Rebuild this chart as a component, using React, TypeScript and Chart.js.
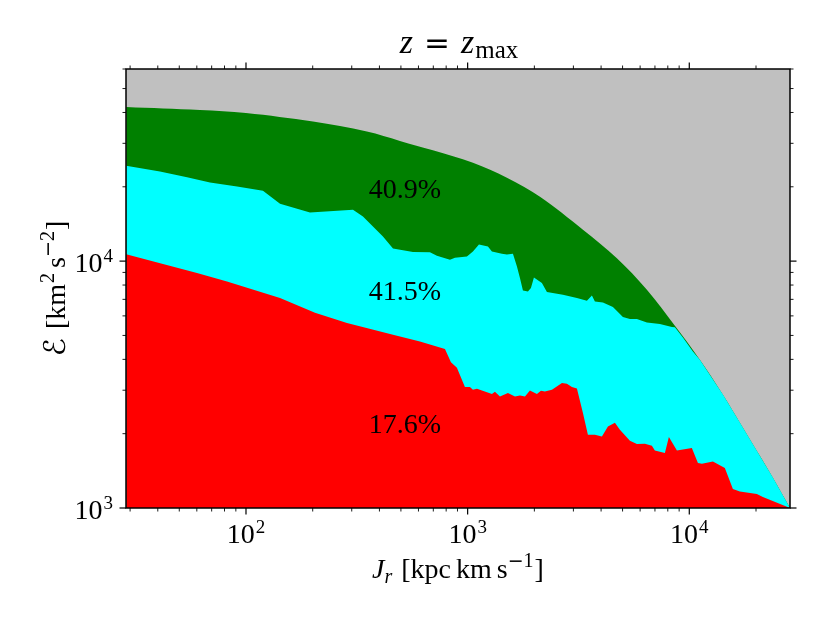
import { useEffect, useRef } from "react";
import { Chart, registerables } from "chart.js";

Chart.register(...registerables);

// ---------- axis ranges ----------
const J_MIN = 28.75;
const J_MAX = 28470;
const E_MIN = 1000;
const E_MAX = 60000;

// ---------- upper envelope (green region top) ----------
const envelopeJ = [28.8, 62, 100, 200.6, 351, 495, 697, 1057, 1504, 2120, 3313, 4714, 6437, 8611, 11160, 14180, 16910, 23830, 28470];
const envelopeE = [42130, 40970, 39840, 36750, 33470, 30690, 28090, 25000, 21740, 18210, 13390, 10260, 7650, 5472, 3985, 2875, 2214, 1327, 1000];

// ---------- middle boundary (cyan region top) ----------
const middleJ = [28.8, 40.9, 54.2, 68.8, 91.1, 119.3, 142.4, 194.4, 303.9, 337.1, 414.9, 460.5, 566.8, 676.1, 726.7, 832.3, 876.6, 992.7, 1056.5, 1124.6, 1234.8, 1287, 1427.8, 1504, 1601, 1669, 1722, 1776, 1871, 1930, 1991, 2163, 2279, 2691, 3112, 3452, 3637, 3751, 4077, 4524, 5018, 5397, 5802, 6437, 7369, 8347, 8611, 9358, 10380, 11160, 14180, 16910, 23830, 28470];
const middleE = [24310, 23060, 21880, 20800, 20040, 19260, 17060, 15730, 16130, 15160, 12580, 11250, 10880, 10860, 10510, 10120, 10310, 10440, 10940, 11680, 11460, 10940, 10710, 10640, 10710, 9509, 8535, 7603, 7534, 7777, 8583, 8146, 7492, 7305, 7083, 6907, 7256, 6862, 6798, 6514, 5933, 5824, 5824, 5642, 5559, 5406, 5400, 4900, 4305, 3990, 2880, 2220, 1330, 1000];

// ---------- lower boundary (red region top) ----------
const lowJ = [28.8, 60.1, 82.1, 142.4, 204.8, 285.5, 460.5, 609.2, 790.1, 840.8, 894.6, 972.2, 1024, 1056.5, 1102, 1287, 1328, 1399, 1520, 1635, 1722, 1814, 1910, 2054, 2141, 2232, 2401, 2664, 2805, 2954, 3112, 3313, 3488, 3751, 4035, 4295, 4618, 4864, 5397, 5802, 6305, 6781, 6995, 7761, 8090, 8795, 10270, 10940, 11400, 12780, 14470, 15730, 16910, 20180, 21480, 28470];
const lowE = [10670, 8942, 8269, 7083, 6174, 5610, 5031, 4727, 4402, 3893, 3698, 3090, 3090, 3012, 3041, 2893, 2956, 2830, 2921, 2830, 2857, 2830, 2993, 2893, 2985, 2966, 3012, 3207, 3186, 3090, 3049, 2424, 1981, 1981, 1950, 2140, 2214, 2075, 1873, 1816, 1821, 1787, 1711, 1670, 1939, 1711, 1750, 1521, 1511, 1544, 1452, 1194, 1167, 1139, 1108, 1000];

// ---------- region percentage labels ----------
const regionLabels = ["40.9%", "41.5%", "17.6%"];
const regionLabelJ = [521.5, 521.5, 521.5];
const regionLabelE = [17960, 6970, 2010];

// ---------- tick labels ----------
const xMajorValues = [100, 1000, 10000];
const xMajorExponents = ["2", "3", "4"];
const yMajorValues = [1000, 10000];
const yMajorExponents = ["3", "4"];
const minorMultipliers = [2, 3, 4, 5, 6, 7, 8, 9];

const SERIF = '"Liberation Serif", "Times New Roman", serif';
const SYM = '"DejaVu Sans", sans-serif';
const SCRIPT = '"DejaVu Serif", "DejaVu Sans", serif';

type Run = { t: string; size?: number; italic?: boolean; dy?: number; fam?: string; pre?: number; post?: number };

function fontOf(r: Run) {
  return `${r.italic ? "italic " : ""}${r.size ?? 28}px ${r.fam ?? SERIF}`;
}
function richWidth(ctx: CanvasRenderingContext2D, runs: Run[]) {
  let w = 0;
  for (const r of runs) {
    ctx.font = fontOf(r);
    w += (r.pre ?? 0) + ctx.measureText(r.t).width + (r.post ?? 0);
  }
  return w;
}
function drawRich(ctx: CanvasRenderingContext2D, runs: Run[], x: number, y: number, align: "left" | "center" | "right") {
  const w = richWidth(ctx, runs);
  let cx = align === "center" ? x - w / 2 : align === "right" ? x - w : x;
  ctx.textAlign = "left";
  ctx.textBaseline = "alphabetic";
  for (const r of runs) {
    ctx.font = fontOf(r);
    cx += r.pre ?? 0;
    ctx.fillText(r.t, cx, y + (r.dy ?? 0));
    cx += ctx.measureText(r.t).width + (r.post ?? 0);
  }
}

const decor = {
  id: "decor",
  beforeDatasetsDraw(chart: any) {
    const { ctx, chartArea: a } = chart;
    ctx.save();
    ctx.fillStyle = "#c0c0c0";
    ctx.fillRect(a.left, a.top, a.right - a.left, a.bottom - a.top);
    ctx.restore();
  },
  afterDatasetsDraw(chart: any) {
    const { ctx, chartArea: a } = chart;
    const xs = chart.scales.x;
    const ys = chart.scales.y;
    ctx.save();
    ctx.fillStyle = "#000";
    ctx.strokeStyle = "#000";

    // region labels
    regionLabels.forEach((txt, i) => {
      const px = xs.getPixelForValue(regionLabelJ[i]);
      const py = ys.getPixelForValue(regionLabelE[i]);
      drawRich(ctx, [{ t: txt }], px, py, "center");
    });

    // spines
    ctx.lineWidth = 1.5;
    ctx.strokeRect(a.left, a.top, a.right - a.left, a.bottom - a.top);

    // ticks (outward on all four sides)
    const tick = (x1: number, y1: number, x2: number, y2: number, w: number) => {
      ctx.lineWidth = w;
      ctx.beginPath();
      ctx.moveTo(x1, y1);
      ctx.lineTo(x2, y2);
      ctx.stroke();
    };
    const tickVals: { v: number; major: boolean }[] = [];
    for (let n = 0; n <= 5; n++) {
      const base = Math.pow(10, n);
      tickVals.push({ v: base, major: true });
      minorMultipliers.forEach((m) => tickVals.push({ v: m * base, major: false }));
    }
    tickVals.forEach(({ v, major }) => {
      if (v < J_MIN || v > J_MAX) return;
      const px = xs.getPixelForValue(v);
      const len = major ? 6.5 : 3.5;
      const w = major ? 1.2 : 0.9;
      tick(px, a.bottom, px, a.bottom + len, w);
      tick(px, a.top, px, a.top - len, w);
    });
    tickVals.forEach(({ v, major }) => {
      if (v < E_MIN || v > E_MAX) return;
      const py = ys.getPixelForValue(v);
      const len = major ? 6.5 : 3.5;
      const w = major ? 1.2 : 0.9;
      tick(a.left, py, a.left - len, py, w);
      tick(a.right, py, a.right + len, py, w);
    });

    // tick labels
    xMajorValues.forEach((v, i) => {
      const px = xs.getPixelForValue(v);
      drawRich(ctx, [{ t: "10" }, { t: xMajorExponents[i], size: 19, dy: -10, pre: 1 }], px, a.bottom + 35, "center");
    });
    yMajorValues.forEach((v, i) => {
      const py = ys.getPixelForValue(v);
      drawRich(ctx, [{ t: "10" }, { t: yMajorExponents[i], size: 19, dy: -10, pre: 1 }], a.left - 13, py + 11, "right");
    });

    // title
    const cx = (a.left + a.right) / 2;
    drawRich(
      ctx,
      [
        { t: "z", italic: true, size: 34 },
        { t: "=", fam: SYM, size: 31, pre: 11, post: 11 },
        { t: "z", italic: true, size: 34 },
        { t: "max", size: 25, dy: 5, pre: 1 },
      ],
      cx + 1,
      53,
      "center"
    );

    // x-axis title
    drawRich(
      ctx,
      [
        { t: "J", italic: true },
        { t: "r", italic: true, size: 20, dy: 5 },
        { t: "[", pre: 9 },
        { t: "kpc" },
        { t: "km", pre: 5 },
        { t: "s", pre: 5 },
        { t: "\u2212", fam: SYM, size: 19, dy: -11 },
        { t: "1", size: 20, dy: -11 },
        { t: "]", pre: 1 },
      ],
      cx,
      578,
      "center"
    );

    // y-axis title (rotated)
    ctx.save();
    ctx.translate(65, (a.top + a.bottom) / 2);
    ctx.rotate(-Math.PI / 2);
    drawRich(
      ctx,
      [
        { t: "\u2130", fam: SCRIPT, size: 30 },
        { t: "[", pre: 9 },
        { t: "km" },
        { t: "2", size: 20, dy: -11, pre: 1 },
        { t: "s", pre: 5 },
        { t: "\u2212", fam: SYM, size: 19, dy: -11 },
        { t: "2", size: 20, dy: -11 },
        { t: "]", pre: 1 },
      ],
      0,
      0,
      "center"
    );
    ctx.restore();

    ctx.restore();
  },
};

export default function App() {
  const ref = useRef<HTMLCanvasElement>(null);
  useEffect(() => {
    const canvas = ref.current;
    if (!canvas) return;
    const mk = (xsArr: number[], ysArr: number[]) => xsArr.map((x, i) => ({ x, y: ysArr[i] }));
    const chart = new Chart(canvas, {
      type: "line",
      data: {
        datasets: [
          { label: "low", data: mk(lowJ, lowE), backgroundColor: "#ff0000", borderColor: "rgba(0,0,0,0)", borderWidth: 0, fill: "start", pointRadius: 0, tension: 0 },
          { label: "middle", data: mk(middleJ, middleE), backgroundColor: "#00ffff", borderColor: "rgba(0,0,0,0)", borderWidth: 0, fill: "start", pointRadius: 0, tension: 0 },
          { label: "high", data: mk(envelopeJ, envelopeE), backgroundColor: "#008000", borderColor: "rgba(0,0,0,0)", borderWidth: 0, fill: "start", pointRadius: 0, tension: 0.35 },
        ],
      },
      options: {
        animation: false,
        responsive: true,
        maintainAspectRatio: false,
        events: [],
        layout: { padding: { left: 126, top: 69, right: 40, bottom: 115 } },
        scales: {
          x: { type: "logarithmic", min: J_MIN, max: J_MAX, display: false },
          y: { type: "logarithmic", min: E_MIN, max: E_MAX, display: false },
        },
        plugins: {
          legend: { display: false },
          tooltip: { enabled: false },
          title: { display: false },
        },
      },
      plugins: [decor],
    } as any);
    return () => chart.destroy();
  }, []);
  return (
    <div style={{ position: "fixed", left: 0, top: 0, width: 830, height: 623, background: "#fff" }}>
      <canvas ref={ref} />
    </div>
  );
}
